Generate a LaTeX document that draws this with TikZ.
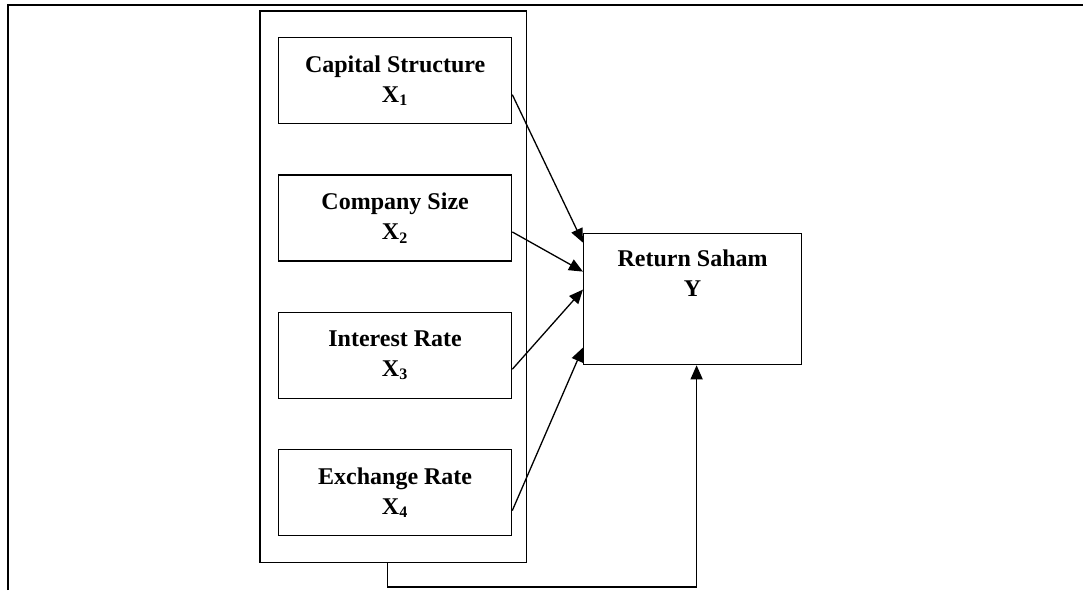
\documentclass[tikz,border=0pt]{standalone}
\usepackage{fontspec}
\setmainfont{Liberation Serif}
\usepackage{tikz}
\usetikzlibrary{arrows.meta, positioning, fit}

\begin{document}
\begin{tikzpicture}[
  x=0.5pt, y=-0.5pt,
  node distance=25pt and 28pt,
  varblock/.style={draw, rectangle, line width=0.65pt, minimum height=43pt, minimum width=116.5pt, align=center, font=\fontsize{12}{15}\selectfont\bfseries},
  groupblock/.style={draw, rectangle, line width=0.65pt, inner xsep=8pt, inner ysep=13pt},
  resultblock/.style={draw, rectangle, line width=0.65pt, minimum height=65.5pt, minimum width=109pt},
  arrow/.style={-{Triangle[length=7pt, width=6pt]}, line width=0.65pt}
]

\useasboundingbox (0,0) rectangle (1083,590);

% outer frame
\draw[line width=1pt] (8,590) -- (8,5) -- (1083,5);

\node[varblock, anchor=north west] (capital) at (278,37) {Capital Structure\\X\textsubscript{1}};
\node[varblock, below=of capital] (size) {Company Size\\X\textsubscript{2}};
\node[varblock, below=of size] (interest) {Interest Rate\\X\textsubscript{3}};
\node[varblock, below=of interest] (exchange) {Exchange Rate\\X\textsubscript{4}};

\node[groupblock, fit=(capital) (size) (interest) (exchange), xshift=-1pt] (group) {};

\node[resultblock, right=of group.east, yshift=-6.25pt] (ret) {};
\node[below=5pt of ret.north, align=center, font=\fontsize{12}{15}\selectfont\bfseries] (retlabel) {Return Saham\\Y};

\draw[arrow] ([yshift=-7pt]capital.east) -- ([yshift=28.25pt]ret.west);
\draw[arrow] ([yshift=-7pt]size.east) -- ([yshift=13.75pt]ret.west);
\draw[arrow] ([yshift=-7pt]interest.east) -- ([yshift=4.75pt]ret.west);
\draw[arrow] ([yshift=-9pt]exchange.east) -- ([yshift=-24.25pt]ret.west);

\draw[arrow] ([xshift=-3pt]group.south) -- ++(0,24) -| ([xshift=2pt]ret.south);

\end{tikzpicture}
\end{document}
